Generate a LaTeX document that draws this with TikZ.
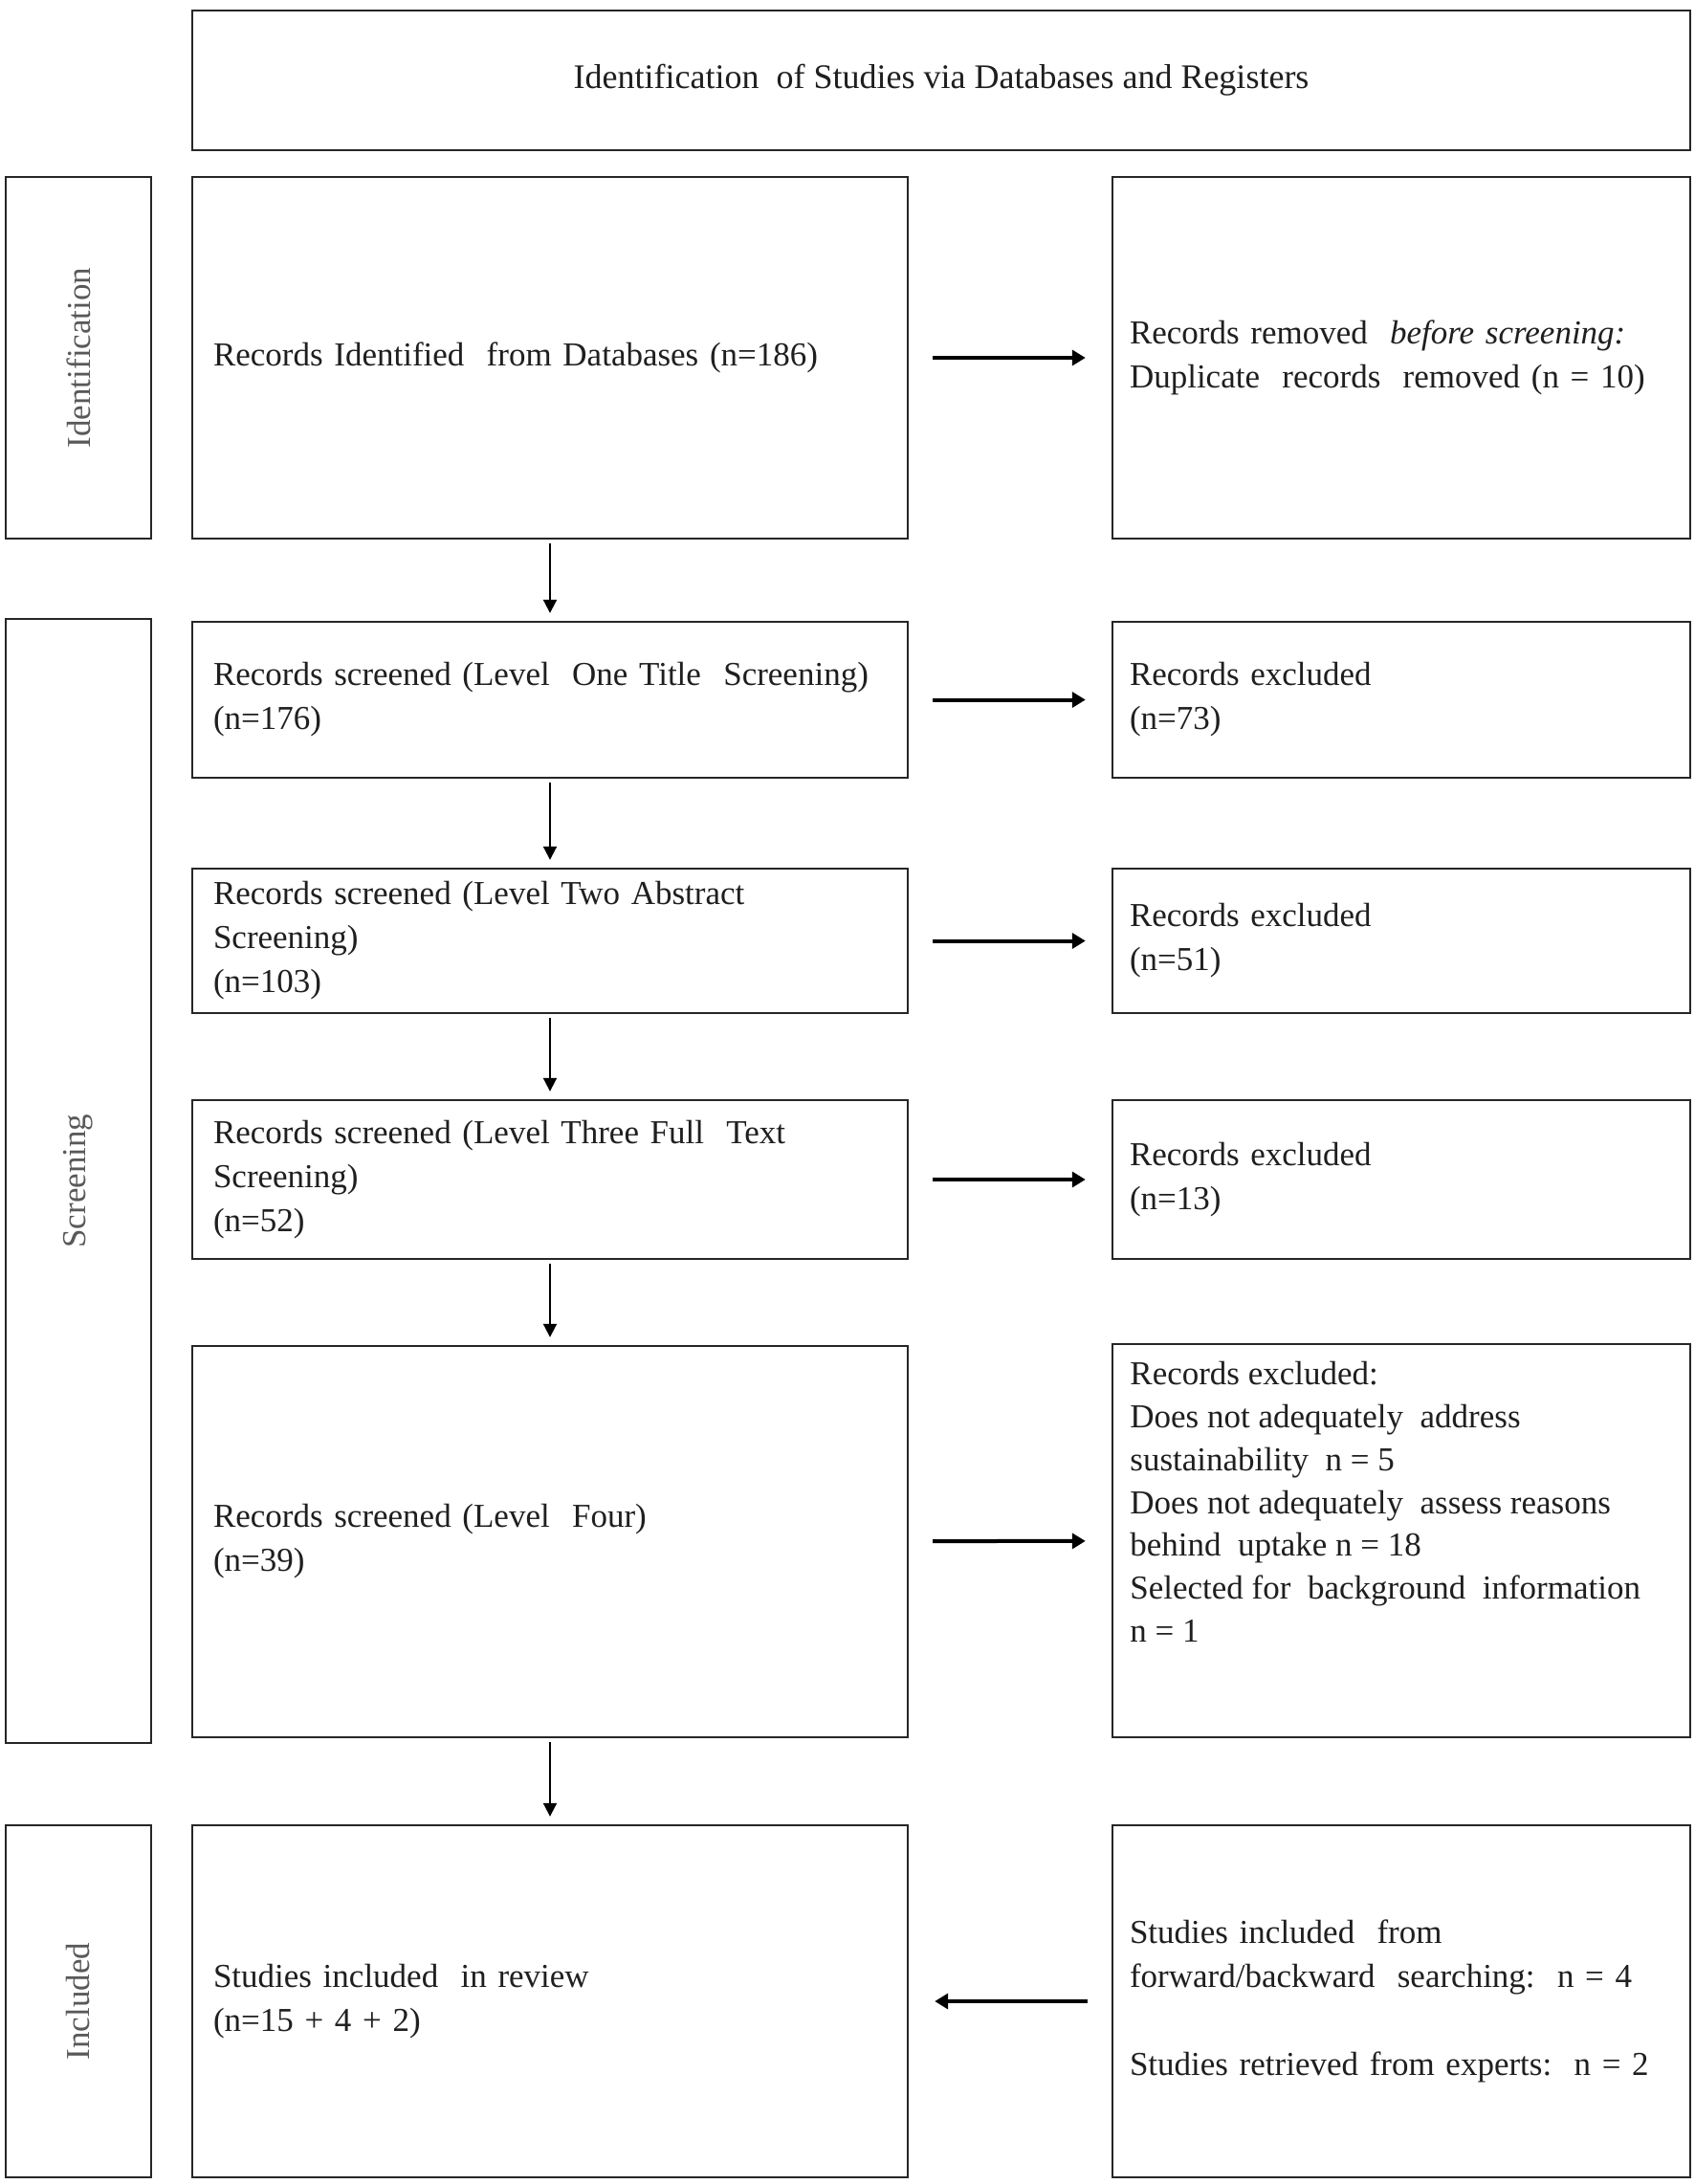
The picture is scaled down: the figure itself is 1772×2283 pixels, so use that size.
\documentclass[tikz,border=0pt]{standalone}
\usepackage{fontspec}
\setmainfont{Liberation Serif}
\usetikzlibrary{arrows.meta}
\begin{document}
\begin{tikzpicture}[x=0.5pt,y=-0.5pt,
  box/.style={draw=black!85, line width=1.2pt, inner sep=0pt, fill=white,
    font=\fontsize{17.5}{23}\selectfont, text=black!88},
  lbox/.style={box, minimum width=374pt, text width=352pt, align=left},
  rbox/.style={box, minimum width=302pt, text width=284pt, align=left},
  sbox/.style={box, minimum width=76pt},
  side/.style={rotate=90, font=\fontsize{17.5}{22}\selectfont, text=black!65, inner sep=0pt},
  varr/.style={-{Triangle[length=7pt,width=7pt]}, line width=1pt, shorten <=2pt, shorten >=4pt},
  harr/.style={-{Triangle[length=7pt,width=8pt]}, line width=2pt, shorten <=12.5pt, shorten >=13.5pt},
  txt/.style={font=\fontsize{17.5}{22.4}\selectfont, text=black!88, align=left, inner sep=0pt}
]
\useasboundingbox (0,0) rectangle (1772,2283);
\fill[white] (0,0) rectangle (1772,2283);

% title
\node[box, minimum width=783pt, minimum height=73pt, font=\fontsize{18}{23}\selectfont] (title) at (984,84) {Identification\ \ of Studies via Databases and Registers};

% side boxes
\node[sbox, minimum height=189pt] (sid) at (82,374) {};
\node[side] (sidl) at (sid.center) {Identification};
\node[sbox, minimum height=587.5pt] (sscr) at (82,1234.5) {};
\node[side] (sscrl) at (sscr.center) {Screening};
\node[sbox, minimum height=184pt] (sinc) at (82,2092) {};
\node[side] (sincl) at (sinc.center) {Included};

% left column
\node[lbox, minimum height=189pt] (b1) at (575,374) {Records Identified\ \ from Databases (n=186)};
\node[lbox, minimum height=81.5pt] (b2) at (575,731.5) {Records screened (Level\ \ One Title\ \ Screening)\\(n=176)};
\node[lbox, minimum height=75.5pt] (b3) at (575,983.5) {Records screened (Level Two Abstract\\Screening)\\(n=103)};
\node[lbox, minimum height=83pt] (b4) at (575,1233) {Records screened (Level Three Full\ \ Text\\Screening)\\(n=52)};
\node[lbox, minimum height=204.5pt] (b5) at (575,1611.5) {Records screened (Level\ \ Four)\\(n=39)};
\node[lbox, minimum height=184pt] (b6) at (575,2092) {Studies included\ \ in review\\(n=15 + 4 + 2)};

% right column
\node[rbox, minimum height=189pt] (r1) at (1465,374) {Records removed\ \ \textit{before screening:}\\Duplicate\ \ records\ \ removed (n = 10)};
\node[rbox, minimum height=81.5pt] (r2) at (1465,731.5) {Records excluded\\(n=73)};
\node[rbox, minimum height=75.5pt] (r3) at (1465,983.5) {Records excluded\\(n=51)};
\node[rbox, minimum height=83pt] (r4) at (1465,1233) {Records excluded\\(n=13)};
\node[rbox, minimum height=205.5pt] (r5) at (1465,1610.5) {};
\node[txt, anchor=north west] (r5t) at (1181,1423) {Records excluded:\\Does not adequately\ \ address\\sustainability\ \ n = 5\\Does not adequately\ \ assess reasons\\behind\ \ uptake n = 18\\Selected\ for\ \ background\ \ information\\n = 1};
\node[rbox, minimum height=184pt] (r6) at (1465,2092) {Studies included\ \ from\\forward/backward\ \ searching:\ \ n = 4\\[23pt]Studies retrieved from experts:\ \ n = 2};

% vertical arrows
\draw[varr] (b1) -- (b2);
\draw[varr] (b2) -- (b3);
\draw[varr] (b3) -- (b4);
\draw[varr] (b4) -- (b5);
\draw[varr] (b5) -- (b6);

% horizontal arrows
\draw[harr] (b1) -- (r1);
\draw[harr] (b2) -- (r2);
\draw[harr] (b3) -- (r3);
\draw[harr] (b4) -- (r4);
\draw[harr] (b5) -- (r5);
\draw[harr] (r6) -- (b6);
\end{tikzpicture}
\end{document}
